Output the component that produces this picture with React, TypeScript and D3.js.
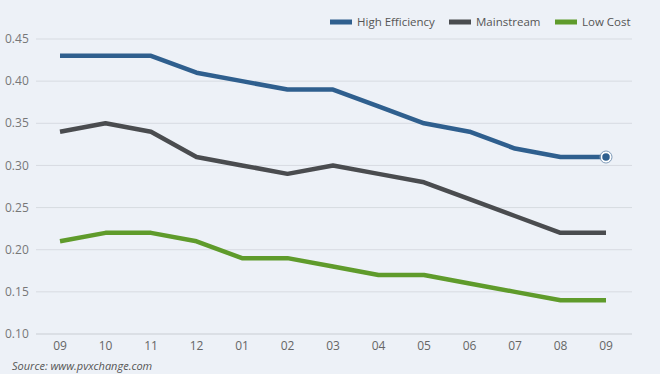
import React from 'react';
import * as d3 from 'd3';

const periods = ['09', '10', '11', '12', '01', '02', '03', '04', '05', '06', '07', '08', '09'];
const highEfficiency = [0.43, 0.43, 0.43, 0.41, 0.40, 0.39, 0.39, 0.37, 0.35, 0.34, 0.32, 0.31, 0.31];
const mainstream = [0.34, 0.35, 0.34, 0.31, 0.30, 0.29, 0.30, 0.29, 0.28, 0.26, 0.24, 0.22, 0.22];
const lowCost = [0.21, 0.22, 0.22, 0.21, 0.19, 0.19, 0.18, 0.17, 0.17, 0.16, 0.15, 0.14, 0.14];
const yTicks = [0.10, 0.15, 0.20, 0.25, 0.30, 0.35, 0.40, 0.45];

const series = [
  { name: 'High Efficiency', values: highEfficiency, color: '#2f5f8e' },
  { name: 'Mainstream', values: mainstream, color: '#4a4c4f' },
  { name: 'Low Cost', values: lowCost, color: '#5f9b2b' },
];

export default function App() {
  const width = 660;
  const height = 374;
  const font = '"Open Sans", "Noto Sans", sans-serif';

  const x = d3.scalePoint<number>()
    .domain(d3.range(periods.length))
    .range([60, 606]);
  const y = d3.scaleLinear().domain([0.10, 0.45]).range([334, 39]);

  const line = d3.line<number>()
    .x((_d, i) => x(i)!)
    .y(d => y(d));

  const legendX = [330, 449, 555];
  const last = periods.length - 1;

  return (
    <svg width={width} height={height} style={{ position: 'absolute', left: 0, top: 0, display: 'block' }}>
      <rect x={0} y={0} width={width} height={height} fill="#edf1f7" />

      {/* Grid + y labels */}
      {yTicks.map(t => (
        <g key={t}>
          <line x1={36} x2={632} y1={y(t)} y2={y(t)} stroke={t === 0.10 ? '#c9cdd3' : '#d7dbe1'} strokeWidth={1} />
          <text x={5} y={y(t)} dy="0.35em" fontFamily={font} fontSize={12} fill="#777">
            {t.toFixed(2)}
          </text>
        </g>
      ))}

      {/* X labels */}
      {periods.map((p, i) => (
        <text key={i} x={x(i)} y={346} dy="0.35em" textAnchor="middle" fontFamily={font} fontSize={12} fill="#666">
          {p}
        </text>
      ))}

      {/* Lines */}
      {series.map(s => (
        <path key={s.name} d={line(s.values) ?? ''} fill="none" stroke={s.color} strokeWidth={4.5} strokeLinejoin="round" />
      ))}

      {/* End marker */}
      <circle cx={x(last)} cy={y(highEfficiency[last])} r={6} fill="none" stroke="#7f9bb8" strokeWidth={1} />
      <circle cx={x(last)} cy={y(highEfficiency[last])} r={4.5} fill="#2f5f8e" stroke="#fff" strokeWidth={1.5} />

      {/* Legend */}
      {series.map((s, i) => (
        <g key={s.name} transform={`translate(${legendX[i]},22)`}>
          <rect x={0} y={-2.5} width={22} height={5} fill={s.color} />
          <text x={27} y={0} dy="0.35em" fontFamily={font} fontSize={11.5} fill="#555">
            {s.name}
          </text>
        </g>
      ))}

      {/* Source */}
      <text x={12} y={366} dy="0.35em" fontFamily={font} fontSize={11} fontStyle="italic" fill="#555">
        Source: www.pvxchange.com
      </text>
    </svg>
  );
}
